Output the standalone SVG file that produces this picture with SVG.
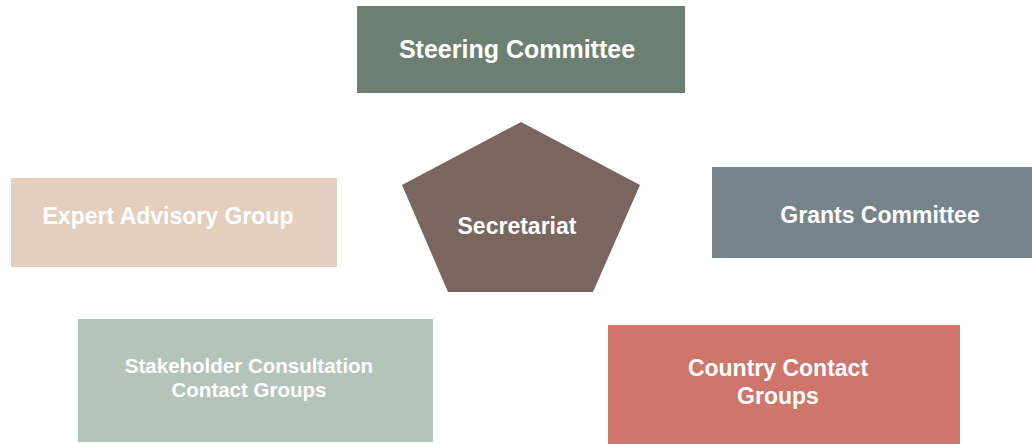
<svg xmlns="http://www.w3.org/2000/svg" width="1032" height="444" viewBox="0 0 1032 444">
<style>
.t{font-family:"Liberation Sans",Arial,sans-serif;font-weight:bold;fill:#ffffff;text-anchor:middle}
</style>
<rect width="1032" height="444" fill="#ffffff"/>
<g id="connectors"></g>
<g id="steering">
<rect x="357" y="6" width="328" height="87" fill="#6B8071"/>
<text class="t" x="517" y="58" font-size="25">Steering Committee</text>
</g>
<g id="secretariat">
<polygon points="521,122 640,185 593,292 448,292 402,185" fill="#7A665E"/>
<text class="t" x="517" y="234" font-size="23">Secretariat</text>
</g>
<g id="expert">
<rect x="11" y="178" width="326" height="89" fill="#E4CFBE"/>
<text class="t" x="168" y="224" font-size="23">Expert Advisory Group</text>
</g>
<g id="grants">
<rect x="712" y="167" width="336" height="91" fill="#76848C"/>
<text class="t" x="880" y="223" font-size="23">Grants Committee</text>
</g>
<g id="stakeholder">
<rect x="78" y="319" width="355" height="123" fill="#B5C4BB"/>
<text class="t" x="249" y="373" font-size="20.5">Stakeholder Consultation</text>
<text class="t" x="249" y="397" font-size="20.5">Contact Groups</text>
</g>
<g id="country">
<rect x="608" y="325" width="352" height="125" fill="#CE756C"/>
<text class="t" x="778" y="376" font-size="23">Country Contact</text>
<text class="t" x="778" y="404" font-size="23">Groups</text>
</g>
</svg>
